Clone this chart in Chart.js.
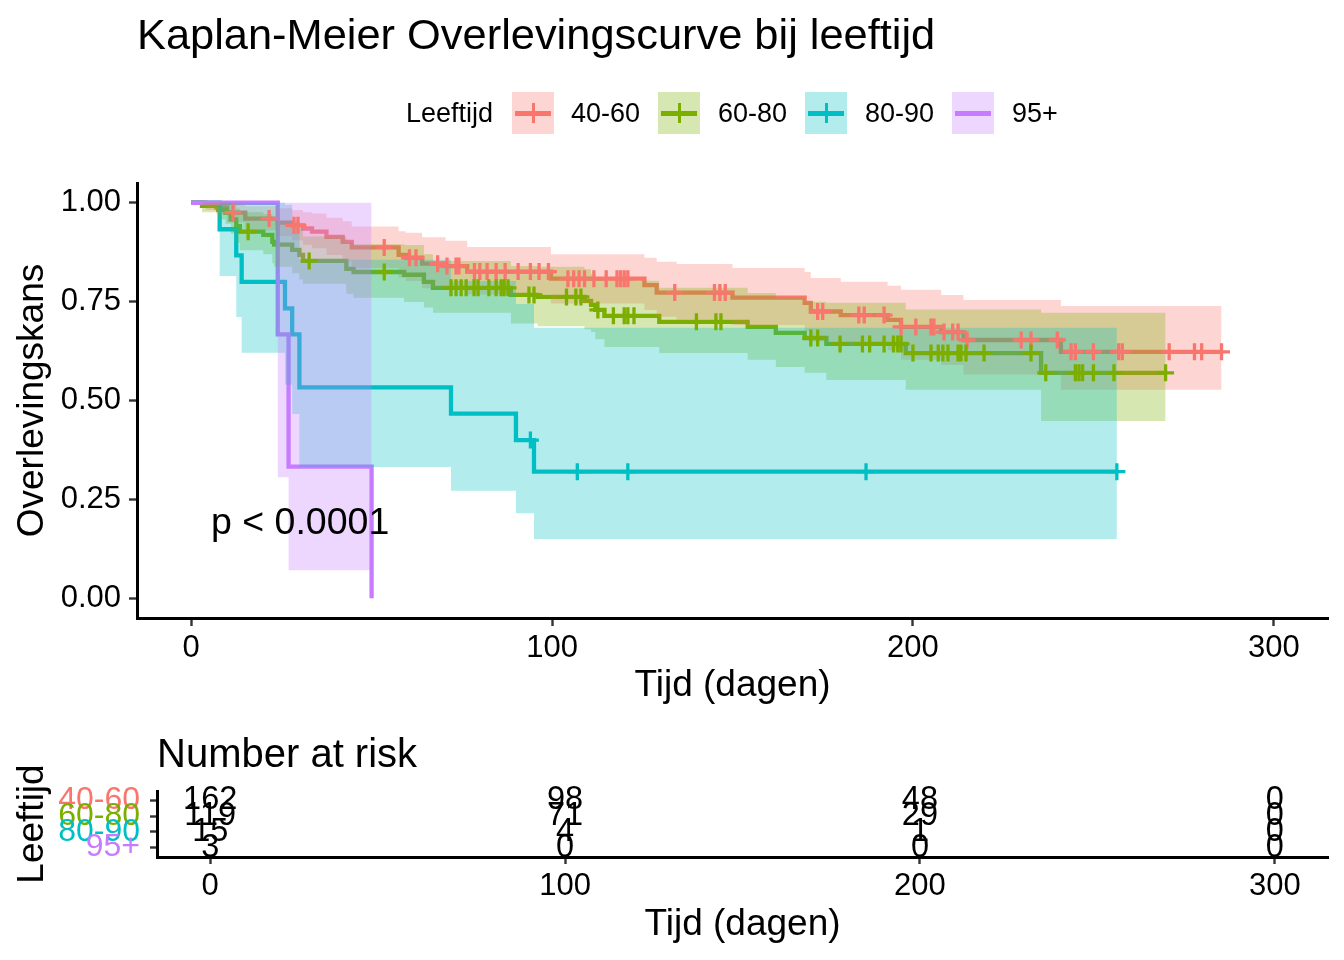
<!DOCTYPE html>
<html><head><meta charset="utf-8">
<script src="https://cdn.jsdelivr.net/npm/chart.js@4.4.1/dist/chart.umd.min.js"></script>
<style>
html,body{margin:0;padding:0;background:#fff;}
body{width:1344px;height:960px;position:relative;overflow:hidden;font-family:'Liberation Sans',Arial,sans-serif;color:#000;}
.t{position:absolute;white-space:nowrap;line-height:1;}
canvas{position:absolute;left:0;}
.key{position:absolute;width:42px;height:42px;top:92px;}
.key .h{position:absolute;left:3px;right:3px;top:18.5px;height:5px;}
.key .v{position:absolute;left:19.5px;width:3px;top:11px;height:20px;}
</style></head><body>
<canvas id="main" width="1344" height="720" style="top:0"></canvas>
<canvas id="risk" width="1344" height="240" style="top:720px"></canvas>
<div class="t" style="left:137px;top:12.6px;font-size:43.4px">Kaplan-Meier Overlevingscurve bij leeftijd</div>
<div id="legend"></div>
<div class="t" style="left:211px;top:502.7px;font-size:37.5px">p &lt; 0.0001</div>
<div class="t" style="left:157px;top:733px;font-size:40px">Number at risk</div>
<script>
// ---------------- DATA ----------------
const groupLabels = ['40-60', '60-80', '80-90', '95+'];
const groupColors = ['#F8766D', '#7CAE00', '#00BFC4', '#C77CFF'];
const legendTitle = 'Leeftijd';

// 40-60
const timeA  = [0, 4, 7, 10, 15, 24, 28, 31, 33.5, 37.5, 42, 44.5, 57.5, 59.5, 64, 70.5, 76.5, 99.7, 125.6, 129, 134.5, 150, 170, 171.7, 180, 193, 196.7, 207.8, 214, 241, 285.5];
const survA  = [1, 0.994, 0.988, 0.975, 0.960, 0.950, 0.943, 0.935, 0.927, 0.914, 0.901, 0.887, 0.868, 0.861, 0.846, 0.840, 0.826, 0.808, 0.792, 0.773, 0.773, 0.760, 0.747, 0.725, 0.716, 0.704, 0.686, 0.673, 0.653, 0.623, 0.623];
const upperA = [1, 1, 1, 1, 0.991, 0.986, 0.981, 0.976, 0.973, 0.962, 0.953, 0.940, 0.928, 0.924, 0.913, 0.904, 0.888, 0.870, 0.861, 0.851, 0.845, 0.835, 0.825, 0.810, 0.800, 0.790, 0.780, 0.767, 0.754, 0.739, 0.739];
const lowerA = [1, 0.982, 0.971, 0.951, 0.930, 0.916, 0.905, 0.894, 0.885, 0.868, 0.852, 0.835, 0.811, 0.802, 0.784, 0.781, 0.768, 0.745, 0.729, 0.712, 0.704, 0.691, 0.676, 0.649, 0.641, 0.627, 0.603, 0.590, 0.566, 0.527, 0.527];
const censorA = [11.6, 21.6, 28.5, 29.6, 53.5, 60.5, 62.3, 68.3, 70.9, 73.4, 74.2, 78.5, 80, 82, 84.5, 87, 90.6, 94, 96.4, 99, 104.4, 106, 107.5, 109, 111.6, 115, 118, 119, 120, 121, 134, 145, 146.5, 148, 173.6, 175, 185, 186.5, 192, 196.7, 200.8, 205, 205.8, 208.6, 211, 212.5, 215, 230, 232.7, 240, 243.8, 245, 250, 257, 258, 271, 278, 280, 285.5];

// 60-80
const timeB  = [0, 3, 7.5, 9.5, 11, 12.5, 13.5, 20, 22.5, 23, 28, 30, 31, 43, 45, 59, 64.5, 67, 88.6, 96, 109, 110.8, 112, 114.5, 129.7, 154.2, 162, 170, 176, 198, 235.5, 270];
const survB  = [1, 0.992, 0.982, 0.975, 0.958, 0.941, 0.927, 0.919, 0.901, 0.894, 0.881, 0.868, 0.853, 0.833, 0.825, 0.818, 0.800, 0.785, 0.767, 0.762, 0.752, 0.742, 0.729, 0.714, 0.699, 0.686, 0.671, 0.658, 0.643, 0.620, 0.570, 0.570];
const upperB = [1, 1, 1, 1, 0.995, 0.985, 0.976, 0.971, 0.959, 0.954, 0.945, 0.935, 0.915, 0.900, 0.895, 0.893, 0.870, 0.853, 0.840, 0.838, 0.832, 0.820, 0.810, 0.803, 0.785, 0.772, 0.760, 0.750, 0.747, 0.730, 0.722, 0.722];
const lowerB = [1, 0.976, 0.958, 0.947, 0.922, 0.899, 0.880, 0.870, 0.847, 0.838, 0.822, 0.806, 0.795, 0.770, 0.760, 0.749, 0.735, 0.722, 0.695, 0.688, 0.680, 0.673, 0.655, 0.635, 0.620, 0.603, 0.585, 0.570, 0.552, 0.527, 0.448, 0.448];
const censorB = [15.8, 32.7, 53.5, 72, 73.4, 74.8, 76.2, 78.4, 79.5, 82.5, 84.5, 85.9, 86.7, 87.8, 93.6, 95, 104, 106.6, 108, 112.7, 117, 120, 121, 122.7, 140, 145.4, 146.8, 171.7, 173.6, 179.8, 186, 188, 192, 194.6, 195.8, 196.7, 200, 205, 207, 208.3, 209.7, 212.5, 213.3, 214.7, 219.7, 232.7, 236.8, 245, 246, 247, 250, 255.7, 270];

// 80-90
const timeC  = [0, 7.9, 12.5, 14, 26, 28, 30, 72, 90, 95, 256.5];
const survC  = [1, 0.933, 0.867, 0.800, 0.733, 0.667, 0.533, 0.467, 0.400, 0.320, 0.320];
const upperC = [1, 1, 1, 1, 0.995, 0.954, 0.856, 0.802, 0.744, 0.684, 0.684];
const lowerC = [1, 0.815, 0.711, 0.621, 0.540, 0.466, 0.332, 0.272, 0.215, 0.150, 0.150];
const censorC = [94, 107, 121, 187, 256.5];

// 95+
const timeD  = [0, 24, 27, 50];
const survD  = [1, 0.667, 0.333, 0];
const upperD = [1, 1, 1, 1];
const lowerD = [1, 0.306, 0.071, 0.071];
const censorD = [];

const xTicks = [0, 100, 200, 300];
const yTicks = [0, 0.25, 0.5, 0.75, 1];
const riskTimes = [0, 100, 200, 300];
const riskA = [162, 98, 48, 0];
const riskB = [119, 71, 29, 0];
const riskC = [15, 4, 1, 0];
const riskD = [3, 0, 0, 0];

// ---------------- RENDER ----------------
const FONT = "'Liberation Sans', Arial, sans-serif";
function rgba(hex, a) {
  const n = parseInt(hex.slice(1), 16);
  return `rgba(${(n >> 16) & 255},${(n >> 8) & 255},${n & 255},${a})`;
}
const pts = (ts, vs) => ts.map((t, i) => ({x: t, y: vs[i]}));
function stepAt(ts, vs, t) {
  let k = 0;
  for (let i = 0; i < ts.length; i++) if (ts[i] <= t) k = i;
  return vs[k];
}
const groups = [
  {t: timeA, s: survA, u: upperA, l: lowerA, c: censorA},
  {t: timeB, s: survB, u: upperB, l: lowerB, c: censorB},
  {t: timeC, s: survC, u: upperC, l: lowerC, c: censorC},
  {t: timeD, s: survD, u: upperD, l: lowerD, c: censorD}
];
const riskTable = [riskA, riskB, riskC, riskD];

// legend (HTML)
const keyLeft = [512, 658, 805, 952];
const textLeft = [571, 718, 865, 1012];
const leg = document.getElementById('legend');
let html = `<div class="t" style="left:406px;top:99.8px;font-size:27px">${legendTitle}</div>`;
groupLabels.forEach((lab, i) => {
  const col = groupColors[i];
  const hasCensor = groups[i].c.length > 0;
  html += `<div class="key" style="left:${keyLeft[i]}px;background:${rgba(col, 0.3)}"><div class="h" style="background:${col}"></div>${hasCensor ? `<div class="v" style="background:${col}"></div>` : ''}</div>`;
  html += `<div class="t" style="left:${textLeft[i]}px;top:99.8px;font-size:27px">${lab}</div>`;
});
leg.innerHTML = html;

const datasets = [];
groups.forEach((g, gi) => {
  const col = groupColors[gi];
  datasets.push({
    data: pts(g.t, g.u), stepped: 'before', borderColor: 'rgba(0,0,0,0)', borderWidth: 0,
    pointRadius: 0, pointHitRadius: 0, fill: '+1', backgroundColor: rgba(col, 0.3), order: 23 - gi
  });
  datasets.push({
    data: pts(g.t, g.l), stepped: 'before', borderColor: 'rgba(0,0,0,0)', borderWidth: 0,
    pointRadius: 0, pointHitRadius: 0, fill: false, order: 23 - gi
  });
});
groups.forEach((g, gi) => {
  const col = groupColors[gi];
  datasets.push({
    data: pts(g.t, g.s), stepped: 'before', borderColor: col, borderWidth: 4.3,
    pointRadius: 0, pointHitRadius: 0, fill: false, order: 33 - gi,
    borderJoinStyle: 'miter', borderCapStyle: 'butt'
  });
  datasets.push({
    data: g.c.map(t => ({x: t, y: stepAt(g.t, g.s, t)})), showLine: false,
    pointStyle: 'cross', pointRadius: 8.5, pointBorderWidth: 3.3,
    pointBorderColor: col, pointBackgroundColor: col, borderColor: col,
    fill: false, order: 13 - gi
  });
});

const gridOpts = {drawOnChartArea: false, drawTicks: true, tickLength: 8, tickColor: '#333333', tickWidth: 2.4};
const borderOpts = {display: true, color: '#000', width: 3};

new Chart(document.getElementById('main'), {
  type: 'line',
  data: {datasets},
  options: {
    responsive: false, animation: false, events: [], devicePixelRatio: 1,
    layout: {padding: {left: 0, right: 16, top: 183, bottom: 0}},
    plugins: {legend: {display: false}, tooltip: {enabled: false}, title: {display: false}},
    scales: {
      x: {
        type: 'linear', min: -15, max: 315,
        afterBuildTicks: s => { s.ticks = xTicks.map(v => ({value: v})); },
        afterFit: s => { s.height = 102; },
        ticks: {font: {family: FONT, size: 31}, color: '#000', padding: 4, maxRotation: 0, autoSkip: false},
        grid: gridOpts, border: borderOpts,
        title: {display: true, text: 'Tijd (dagen)', font: {family: FONT, size: 37}, color: '#000', padding: {top: 0, bottom: 12}}
      },
      y: {
        type: 'linear', min: -0.05, max: 1.05,
        afterBuildTicks: s => { s.ticks = yTicks.map(v => ({value: v})); },
        afterFit: s => { s.width = 137; },
        ticks: {font: {family: FONT, size: 31}, color: '#000', padding: 8, autoSkip: false, callback: v => Number(v).toFixed(2)},
        grid: gridOpts, border: borderOpts,
        title: {display: true, text: 'Overlevingskans', font: {family: FONT, size: 37}, color: '#000', padding: {top: 11, bottom: 0}}
      }
    }
  }
});

const riskPlugin = {
  id: 'riskNums',
  afterDatasetsDraw(chart) {
    const {ctx, scales: {x, y}} = chart;
    ctx.save();
    ctx.font = `32.5px ${FONT}`;
    ctx.fillStyle = '#000';
    ctx.textAlign = 'center';
    ctx.textBaseline = 'middle';
    riskTable.forEach((row, gi) => row.forEach((n, i) => {
      ctx.fillText(String(n), x.getPixelForValue(riskTimes[i]), y.getPixelForValue(gi));
    }));
    ctx.restore();
  }
};

new Chart(document.getElementById('risk'), {
  type: 'line',
  data: {datasets: [{data: [], pointRadius: 0}]},
  plugins: [riskPlugin],
  options: {
    responsive: false, animation: false, events: [], devicePixelRatio: 1,
    layout: {padding: {left: 0, right: 16, top: 71, bottom: 0}},
    plugins: {legend: {display: false}, tooltip: {enabled: false}},
    scales: {
      x: {
        type: 'linear', min: -15, max: 315,
        afterBuildTicks: s => { s.ticks = xTicks.map(v => ({value: v})); },
        afterFit: s => { s.height = 103; },
        ticks: {font: {family: FONT, size: 31}, color: '#000', padding: 4, maxRotation: 0, autoSkip: false},
        grid: {drawOnChartArea: false, drawTicks: true, tickLength: 7, tickColor: '#333333', tickWidth: 2.4},
        border: borderOpts,
        title: {display: true, text: 'Tijd (dagen)', font: {family: FONT, size: 37}, color: '#000', padding: {top: 0, bottom: 12.8}}
      },
      y: {
        type: 'linear', min: -0.6, max: 3.6, reverse: true,
        afterBuildTicks: s => { s.ticks = groupLabels.map((l, i) => ({value: i})); },
        afterFit: s => { s.width = 157; },
        ticks: {font: {family: FONT, size: 32}, padding: 10, autoSkip: false, callback: v => groupLabels[v],
                color: c => groupColors[c.index]},
        grid: {drawOnChartArea: false, drawTicks: true, tickLength: 7, tickColor: '#333333', tickWidth: 2.4},
        border: borderOpts,
        title: {display: true, text: legendTitle, font: {family: FONT, size: 37}, color: '#000', padding: {top: 11, bottom: 0}}
      }
    }
  }
});
</script>
</body></html>
